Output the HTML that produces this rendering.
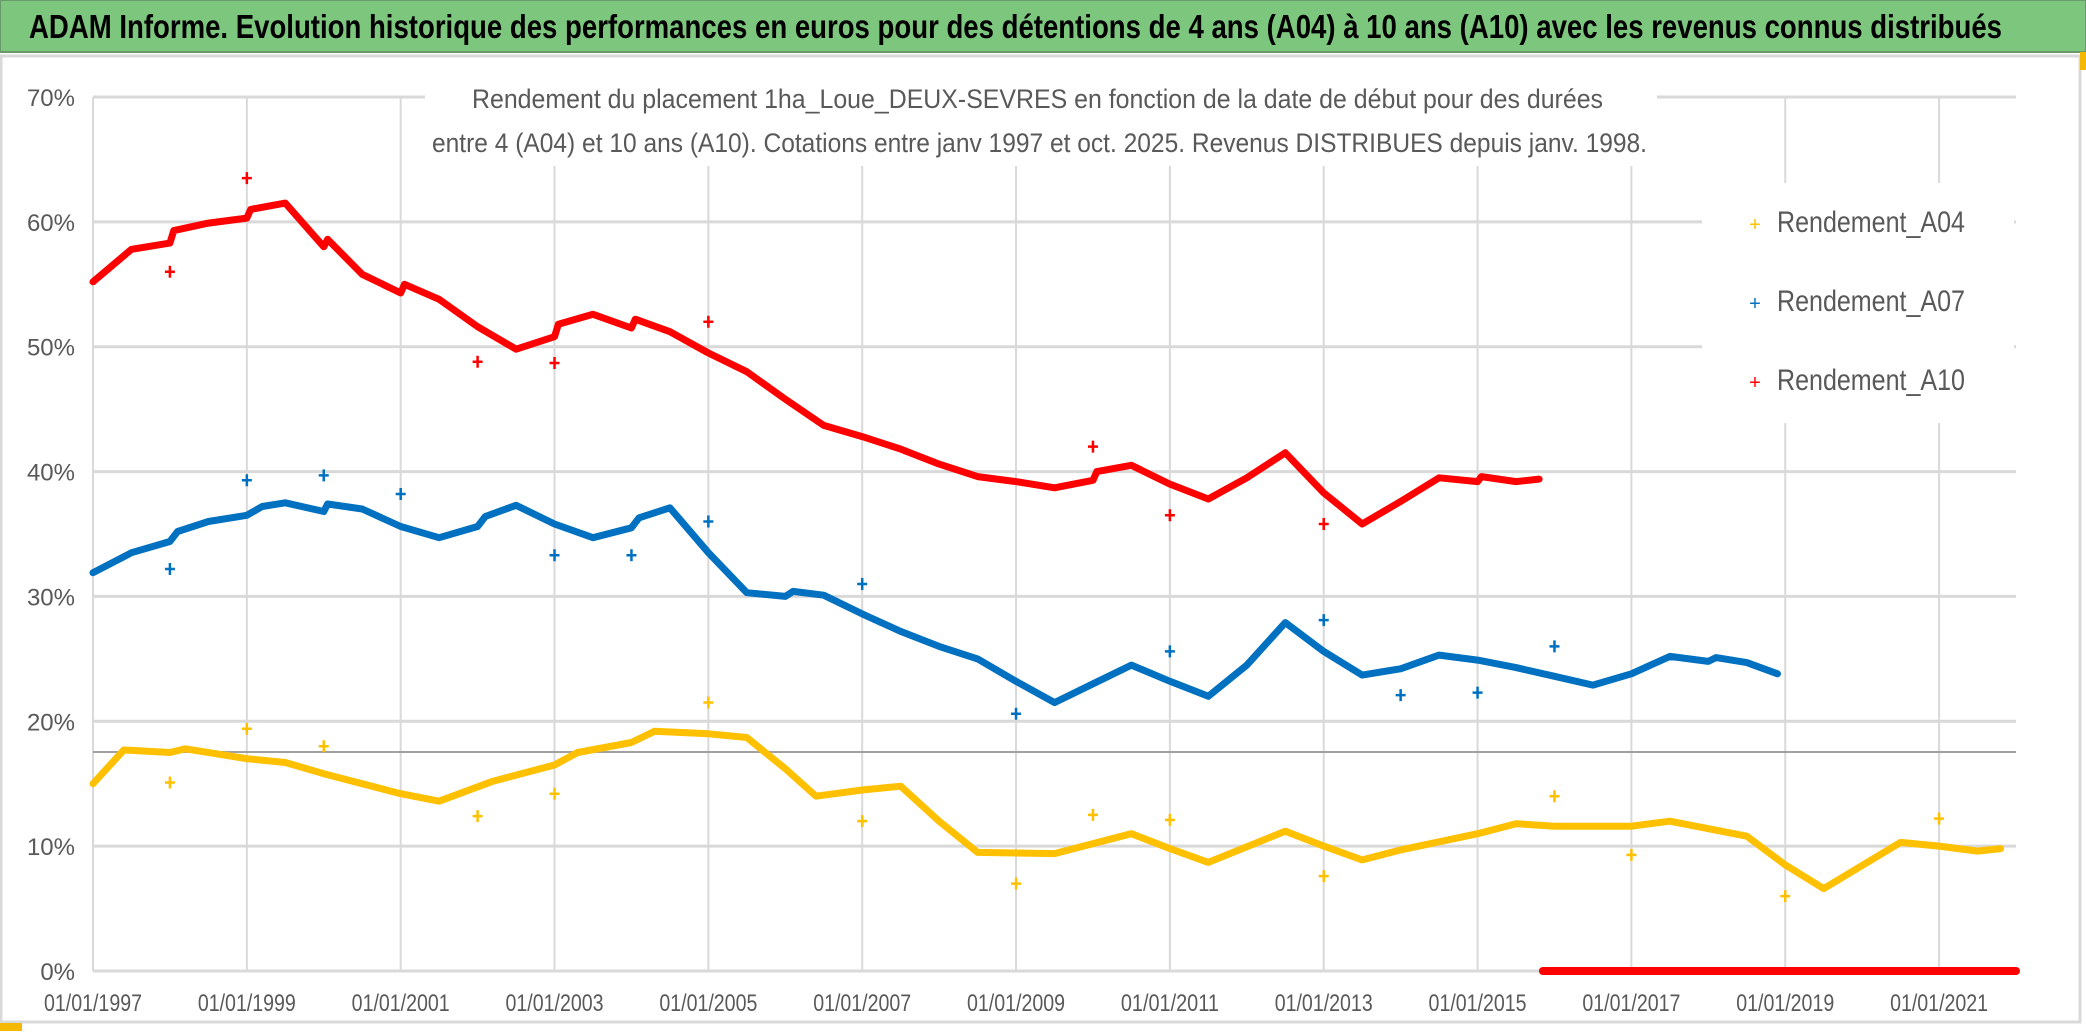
<!DOCTYPE html>
<html><head><meta charset="utf-8">
<style>
html,body{margin:0;padding:0;background:#fff;}
svg{display:block;}
text{font-family:"Liberation Sans Narrow","Liberation Sans",sans-serif;}
</style></head>
<body>
<svg id="chart" width="2086" height="1032" viewBox="0 0 2086 1032" xmlns="http://www.w3.org/2000/svg">
<rect x="0" y="0" width="2086" height="1032" fill="#fff"/>
<rect x="0" y="0" width="2086" height="52" fill="#7dc67d" stroke="#6a9a6a" stroke-width="2"/>
<text x="29" y="38" font-size="33" font-weight="bold" fill="#000" textLength="1973" lengthAdjust="spacingAndGlyphs">ADAM Informe. Evolution historique des performances en euros pour des détentions de 4 ans (A04) à 10 ans (A10) avec les revenus connus distribués</text>
<rect x="1" y="56" width="2079" height="966" fill="none" stroke="#d9d9d9" stroke-width="3"/>
<rect x="2080" y="52" width="6" height="18" fill="#f5b800"/>
<rect x="0" y="1023" width="22" height="8" fill="#f5b800"/>
<g id="grid"></g>
<line x1="93" x2="2016" y1="752" y2="752" stroke="#a0a0a0" stroke-width="2"/>
<rect x="425" y="78" width="1232" height="88" fill="#fff"/>
<text x="472" y="108" font-size="27" fill="#595959" textLength="1131" lengthAdjust="spacingAndGlyphs">Rendement du placement 1ha_Loue_DEUX-SEVRES en fonction de la date de début pour des durées</text>
<text x="432" y="152" font-size="27" fill="#595959" textLength="1215" lengthAdjust="spacingAndGlyphs">entre 4 (A04) et 10 ans (A10). Cotations entre janv 1997 et oct. 2025. Revenus DISTRIBUES depuis janv. 1998.</text>
<g id="axes"></g>
<g id="series"></g>
<rect x="1702" y="183" width="312" height="240" fill="#fff"/>
<g>
 <g>
  <text x="1755" y="231" font-size="20" fill="#ffc000" text-anchor="middle">+</text>
  <text x="1777" y="232" font-size="30" fill="#595959" textLength="188" lengthAdjust="spacingAndGlyphs">Rendement_A04</text>
 </g>
 <g>
  <text x="1755" y="310" font-size="20" fill="#0070c0" text-anchor="middle">+</text>
  <text x="1777" y="311" font-size="30" fill="#595959" textLength="188" lengthAdjust="spacingAndGlyphs">Rendement_A07</text>
 </g>
 <g>
  <text x="1755" y="389" font-size="20" fill="#ff0000" text-anchor="middle">+</text>
  <text x="1777" y="390" font-size="30" fill="#595959" textLength="188" lengthAdjust="spacingAndGlyphs">Rendement_A10</text>
 </g>
</g>
</svg>
<script>
const yTicks=[0,10,20,30,40,50,60,70];
const xTickYears=[1997,1999,2001,2003,2005,2007,2009,2011,2013,2015,2017,2019,2021];
const a04Dates=[1997.0,1997.4,1998.0,1998.2,1999.0,1999.5,2000.0,2001.0,2001.5,2002.2,2003.0,2003.3,2004.0,2004.3,2005.0,2005.5,2006.0,2006.4,2007.0,2007.5,2008.0,2008.5,2009.5,2010.5,2011.0,2011.5,2012.5,2013.0,2013.5,2014.0,2015.0,2015.5,2016.0,2017.0,2017.5,2018.5,2019.0,2019.5,2020.5,2021.0,2021.5,2021.8];
const a04Values=[15,17.7,17.5,17.8,17,16.7,15.8,14.2,13.6,15.2,16.5,17.5,18.3,19.2,19,18.7,16.2,14.0,14.5,14.8,12,9.5,9.4,11,9.8,8.7,11.2,10,8.9,9.7,11,11.8,11.6,11.6,12.0,10.8,8.5,6.6,10.3,10,9.6,9.8];
const a04OutDates=[1998,1999,2000,2002,2003,2005,2007,2009,2010,2011,2013,2016,2017,2019,2021];
const a04OutValues=[15.1,19.4,18,12.4,14.2,21.5,12,7,12.5,12.1,7.6,14,9.3,6,12.2];
const a07Dates=[1997.0,1997.5,1998.0,1998.1,1998.5,1999.0,1999.2,1999.5,2000.0,2000.05,2000.5,2001.0,2001.5,2002.0,2002.1,2002.5,2003.0,2003.5,2004.0,2004.1,2004.5,2005.0,2005.5,2006.0,2006.1,2006.5,2007.0,2007.5,2008.0,2008.5,2009.0,2009.5,2010.0,2010.5,2011.0,2011.5,2012.0,2012.5,2013.0,2013.5,2014.0,2014.5,2015.0,2015.5,2016.0,2016.5,2017.0,2017.5,2018.0,2018.1,2018.5,2018.9];
const a07Values=[31.9,33.5,34.4,35.2,36,36.5,37.2,37.5,36.8,37.4,37,35.6,34.7,35.6,36.4,37.3,35.8,34.7,35.5,36.3,37.1,33.5,30.3,30,30.4,30.1,28.6,27.2,26,25,23.2,21.5,23,24.5,23.2,22,24.5,27.9,25.6,23.7,24.2,25.3,24.9,24.3,23.6,22.9,23.8,25.2,24.8,25.1,24.7,23.8];
const a07OutDates=[1998,1999,2000,2001,2003,2004,2005,2007,2009,2011,2013,2014,2015,2016];
const a07OutValues=[32.2,39.3,39.7,38.2,33.3,33.3,36,31,20.6,25.6,28.1,22.1,22.3,26];
const a10Dates=[1997.0,1997.5,1998.0,1998.05,1998.5,1999.0,1999.05,1999.5,2000.0,2000.05,2000.5,2001.0,2001.05,2001.5,2002.0,2002.5,2003.0,2003.05,2003.5,2004.0,2004.05,2004.5,2005.0,2005.5,2006.0,2006.5,2007.0,2007.5,2008.0,2008.5,2009.0,2009.5,2010.0,2010.05,2010.5,2011.0,2011.5,2012.0,2012.5,2013.0,2013.5,2014.0,2014.5,2015.0,2015.05,2015.5,2015.8];
const a10Values=[55.2,57.8,58.3,59.3,59.9,60.3,61,61.5,58,58.6,55.8,54.3,55,53.8,51.6,49.8,50.8,51.8,52.6,51.5,52.2,51.2,49.5,48,45.8,43.7,42.8,41.8,40.6,39.6,39.2,38.7,39.3,40,40.5,39,37.8,39.5,41.5,38.3,35.8,37.6,39.5,39.2,39.6,39.2,39.4];
const a10OutDates=[1998,1999,2002,2003,2005,2010,2011,2013];
const a10OutValues=[56,63.5,48.8,48.7,52,42,36.5,35.8];
const a10ZeroDates=[2015.85,2022.0];
const a10ZeroValues=[0,0];

const NS='http://www.w3.org/2000/svg';
const X0=93, X1=2016, Y0=971, Y70=97;
function xScale(yr){return X0+(yr-1997)*(X1-X0)/(2022.0-1997);}
function yScale(v){return Y0-v*(Y0-Y70)/70;}
function mk(tag,attrs,parent){const e=document.createElementNS(NS,tag);for(const k in attrs)e.setAttribute(k,attrs[k]);parent.appendChild(e);return e;}
const grid=document.getElementById('grid');
const axes=document.getElementById('axes');
yTicks.forEach(t=>{
  const l=mk('line',{x1:X0,x2:X1,y1:yScale(t),y2:yScale(t),stroke:'#d9d9d9','stroke-width':3},grid);
  
  
  const tx=mk('text',{x:X0-18,y:yScale(t)+9,'font-size':24,fill:'#595959','text-anchor':'end'},axes);
  tx.textContent=t+'%';
  
  
});
xTickYears.forEach(yr=>{
  const x=xScale(yr);
  const l=mk('line',{x1:x,x2:x,y1:Y70,y2:Y0,stroke:'#d9d9d9','stroke-width':2},grid);
  
  
  const tx=mk('text',{x:x,y:1011,'font-size':24,fill:'#595959','text-anchor':'middle',textLength:98,lengthAdjust:'spacingAndGlyphs'},axes);
  tx.textContent='01/01/'+yr;
  
  
});
const series=document.getElementById('series');
function drawLine(dates,vals,color,name,w){
  const pts=dates.map((d,i)=>xScale(d).toFixed(1)+','+yScale(vals[i]).toFixed(1)).join(' ');
  const p=mk('polyline',{points:pts,fill:'none',stroke:color,'stroke-width':w,'stroke-linejoin':'round','stroke-linecap':'round'},series);
  
  
}
function drawPlus(dates,vals,color,name){
  dates.forEach((d,i)=>{
    const x=xScale(d),y=yScale(vals[i]);
    const p=mk('path',{d:`M${x-5},${y}H${x+5}M${x},${y-6}V${y+6}`,stroke:color,'stroke-width':2.5,fill:'none'},series);
    
    
  });
}
drawLine(a04Dates,a04Values,'#ffc000','series-a04-line',7);
drawPlus(a04OutDates,a04OutValues,'#ffc000','series-a04-point');
drawLine(a07Dates,a07Values,'#0070c0','series-a07-line',7);
drawPlus(a07OutDates,a07OutValues,'#0070c0','series-a07-point');
drawLine(a10Dates,a10Values,'#ff0000','series-a10-line',7);
drawPlus(a10OutDates,a10OutValues,'#ff0000','series-a10-point');
drawLine(a10ZeroDates,a10ZeroValues,'#ff0000','series-a10-zero-line',8);
</script>
</body></html>
